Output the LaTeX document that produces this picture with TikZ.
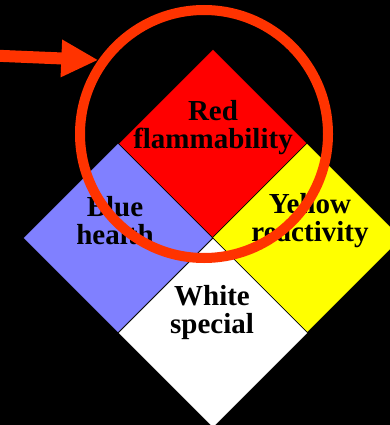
\documentclass[tikz,border=0pt]{standalone}
\usepackage{fontspec}
\setmainfont{Liberation Serif}
\usetikzlibrary{arrows.meta,shapes.geometric}
\definecolor{fire}{HTML}{FF0000}
\definecolor{health}{HTML}{8080FF}
\definecolor{react}{HTML}{FFFF00}
\definecolor{mark}{HTML}{FF3300}
\tikzset{
  part/.style={diamond,draw=black,line width=.6pt,minimum width=190pt,minimum height=190pt,inner sep=0pt},
  lbl/.style={align=center,font=\fontsize{29}{28}\selectfont\bfseries,text=black},
  ring/.style={circle,draw=mark,line width=10pt,minimum size=248pt,inner sep=0pt},
  ar/.style={-{Triangle[length=37pt,width=35pt]},draw=mark,line width=12pt},
}
\begin{document}
\begin{tikzpicture}[x=1pt,y=-1pt]
  \fill[black] (0,0) rectangle (390,425);
  \useasboundingbox (0,0) rectangle (390,425);
  % the four parts of the sign
  \node[part,fill=fire] (red) at (213,144) {};
  \node[part,fill=health] (blue) at (118,238) {};
  \node[part,fill=react] (yellow) at (307,238) {};
  \node[part,fill=white] (white) at (213,333) {};
  \node[lbl] (redtxt) at (213,128) {Red\\flammability};
  \node[lbl] (bluetxt) at (115,221) {Blue\\health};
  \node[lbl] (yellowtxt) at (310,221) {Yellow\\reactivity};
  \node[lbl] (whitetxt) at (212,313) {White\\special};
  % highlight
  \node[ring] (circ) at (204,134) {};
  \coordinate (start) at (-6,55.6);
  \draw[ar] (start) -- (circ.145);
\end{tikzpicture}
\end{document}
